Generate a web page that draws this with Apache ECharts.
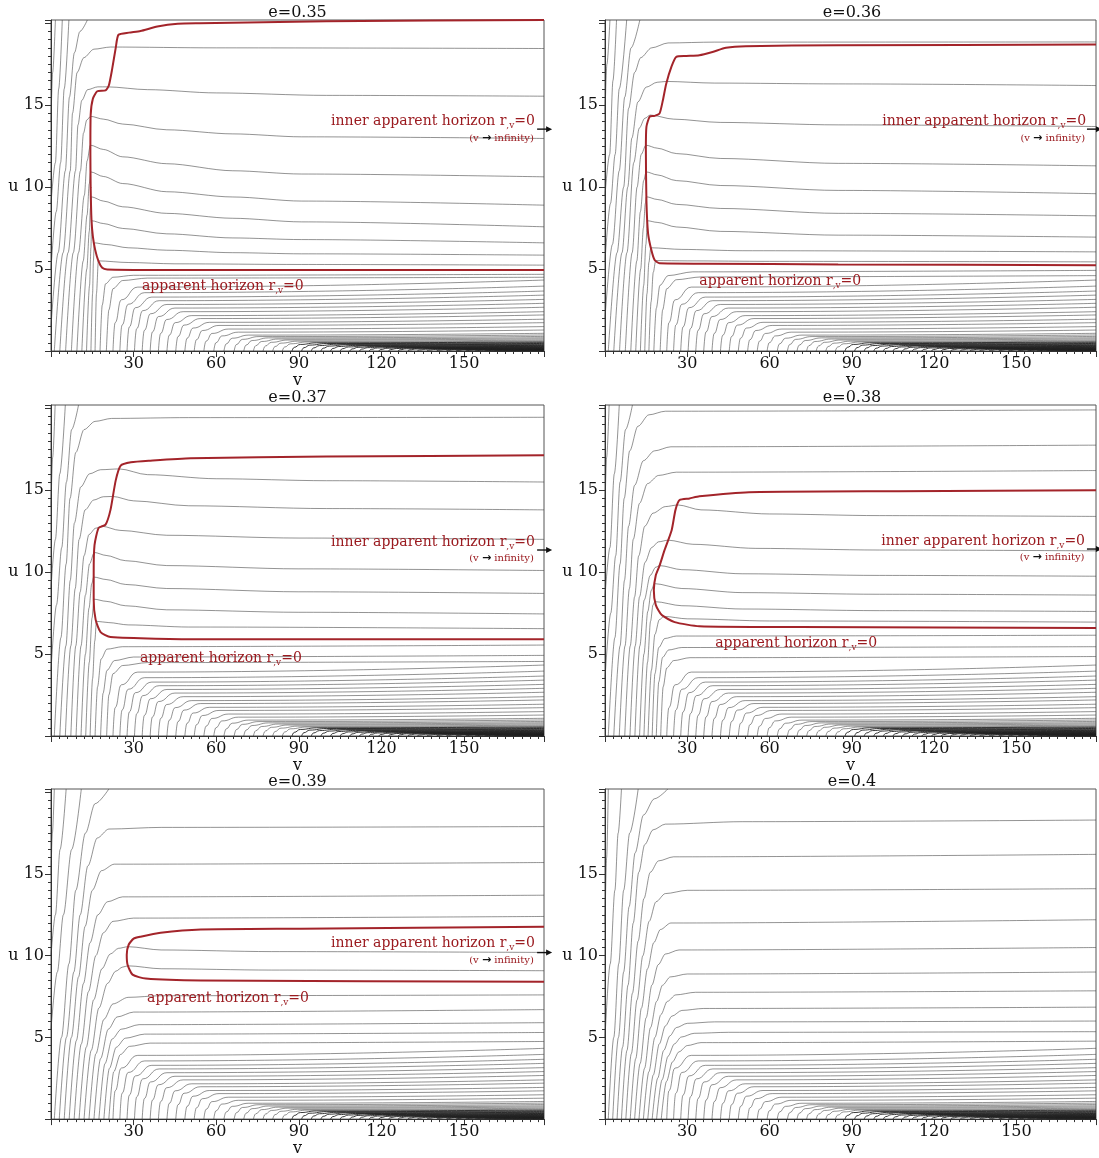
<!DOCTYPE html>
<html><head><meta charset="utf-8">
<script src="https://cdn.jsdelivr.net/npm/echarts@6/dist/echarts.min.js"></script>
<style>html,body{margin:0;padding:0;background:#fff}#c{width:1099px;height:1158px}</style>
</head><body><div id="c"></div>
<script>
// ---------- chart values ----------
const panelTitles = ['e=0.35','e=0.36','e=0.37','e=0.38','e=0.39','e=0.4'];
const xTickLabels = [30,60,90,120,150];
const yTickLabels = [5,10,15];
const vMax = 179, uMax = 20.2;

// lower fan of contour lines (shared by all panels): foot on u=0, three bend points, value at right edge
const fanFootV = [22.5,25,27.6,30.3,33.1,36,39,42.1,45.3,48.6,52,55.5,59.1,62.8,
  66.5,70,73.5,77,80.5,84,87.5,91,94.5,98,101.5,105,108.5,112,115.5,119,122.5,126,129.5,133,136.5,140,143.5,147,150.5,154,157.5,161,164.5,168,171.5,175,178];
const fanBendA = [[23.3,1.73],[25.8,1.58],[28.4,1.46],[31.1,1.36],[33.9,1.26],[36.8,1.16],[39.8,1.07],[42.9,0.96],[46.1,0.88],[49.4,0.78],[52.8,0.69],[56.3,0.6],[59.9,0.51],[63.6,0.43],
  [67.3,0.39],[70.8,0.36],[74.3,0.32],[77.8,0.3],[81.3,0.27],[84.8,0.24],[88.3,0.22],[91.8,0.2],[95.3,0.184],[98.8,0.168],[102.3,0.152],[105.8,0.138],[109.3,0.125],[112.8,0.114],[116.3,0.103],[119.8,0.093],[123.3,0.084],[126.8,0.075],[130.3,0.068],[133.8,0.06],[137.3,0.054],[140.8,0.048],[144.3,0.042],[147.8,0.037],[151.3,0.032],[154.8,0.028],[158.3,0.024],[161.8,0.02],[165.3,0.017],[168.8,0.014],[172.3,0.011],[175.8,0.008],[178.8,0.006]];
const fanBendB = [[25.5,3.12],[28,2.85],[30.6,2.64],[33.3,2.46],[36.1,2.27],[39,2.1],[42,1.92],[45.1,1.73],[48.3,1.58],[51.6,1.4],[55,1.25],[58.5,1.07],[62.1,0.92],[65.8,0.78],
  [69.5,0.71],[73,0.64],[76.5,0.58],[80,0.53],[83.5,0.48],[87,0.44],[90.5,0.4],[94,0.36],[97.5,0.33],[101,0.3],[104.5,0.274],[108,0.248],[111.5,0.225],[115,0.204],[118.5,0.185],[122,0.167],[125.5,0.15],[129,0.135],[132.5,0.122],[136,0.109],[139.5,0.097],[143,0.086],[146.5,0.076],[150,0.067],[153.5,0.058],[157,0.05],[160.5,0.043],[164,0.037],[167.5,0.03],[171,0.024],[174.5,0.019],[178,0.014],[179,0.01]];
const fanBendC = [[31.5,3.9],[34,3.56],[36.6,3.29],[39.3,3.07],[42.1,2.84],[45,2.62],[48,2.4],[51.1,2.16],[54.3,1.98],[57.6,1.75],[61,1.56],[64.5,1.34],[68.1,1.15],[71.8,0.97],
  [75.5,0.88],[79,0.8],[82.5,0.73],[86,0.67],[89.5,0.6],[93,0.55],[96.5,0.5],[100,0.455],[103.5,0.414],[107,0.378],[110.5,0.342],[114,0.31],[117.5,0.282],[121,0.256],[124.5,0.231],[128,0.209],[131.5,0.188],[135,0.169],[138.5,0.152],[142,0.136],[145.5,0.122],[149,0.108],[152.5,0.095],[156,0.084],[159.5,0.073],[163,0.063],[166.5,0.054],[170,0.046],[173.5,0.038],[177,0.031],[179,0.024],[179,0.018],[179,0.013]];
const fanEndU = [4.33,3.96,3.66,3.41,3.15,2.91,2.67,2.4,2.2,1.94,1.73,1.49,1.28,1.08,
  0.98,0.89,0.81,0.74,0.67,0.61,0.555,0.505,0.46,0.42,0.38,0.345,0.313,0.284,0.257,0.232,0.209,0.188,0.169,0.151,0.135,0.12,0.106,0.093,0.081,0.07,0.06,0.051,0.042,0.034,0.027,0.02,0.014];

// upper contour lines per panel, [v,u] points
const contourE35 = [
 [[0,14],[0.6,17],[1.6,20.2]],
 [[0,9],[1.6,11.5],[2.8,16],[4.1,20.2]],
 [[0,5],[1.9,8.5],[3.5,11.5],[4.8,16],[6.5,20.2]],
 [[0,1.5],[2.6,6],[5.2,11],[6.7,15.5],[8.5,18.2],[10.5,19.5],[13.2,20.2]],
 [[1.2,0],[4.4,6],[7,11],[7.8,14.5],[9.5,17],[11.9,17.9],[15.6,18.42],[21.6,18.55],[60,18.5],[179,18.46]],
 [[3.2,0],[6.2,6],[8.9,11],[9.8,13.8],[11.2,15.3],[13.3,15.95],[17,16.12],[20.4,16.12],[35,15.95],[60,15.75],[100,15.6],[179,15.55]],
 [[5.3,0],[8.1,6],[10.7,11],[11.8,13.3],[13,14.1],[14.4,14.32],[19,14.15],[26,13.85],[42,13.5],[66,13.25],[91,13.07],[179,12.97]],
 [[7.4,0],[10,6],[12.1,9.5],[13.1,11.6],[14.3,12.56],[19,12.3],[26,11.85],[42,11.43],[66,11.0],[91,10.8],[179,10.63]],
 [[9.4,0],[11.7,5.5],[13.1,8.3],[13.9,10.2],[14.4,10.93],[19,10.65],[26,10.22],[42,9.72],[66,9.4],[91,9.15],[179,8.9]],
 [[11.2,0],[13,5],[13.9,7.3],[14.3,8.7],[14.6,9.41],[19,9.15],[26,8.8],[42,8.4],[66,8.1],[91,7.88],[179,7.58]],
 [[12.9,0],[14,4],[14.5,6.3],[14.75,7.95],[19,7.78],[26,7.48],[42,7.15],[66,6.9],[91,6.8],[179,6.6]],
 [[14.5,0],[15.1,3.5],[15.4,5.5],[15.7,6.6],[20,6.5],[28,6.3],[42,6.15],[66,6.0],[91,5.93],[179,5.85]],
 [[16,0],[16.5,3.5],[17.2,5.5],[28,5.4],[45,5.32],[91,5.28],[179,5.24]],
 [[17.8,0],[18.6,2.8],[19.8,4.1],[22.5,4.5],[30,4.62],[179,4.68]],
 [[20.1,0],[21,2.5],[22.5,3.8],[26,4.3],[35,4.45],[179,4.5]]
];
const contourE36 = [
 [[0,14.5],[0.7,17.5],[1.8,20.2]],
 [[0,9.5],[1.7,12],[2.9,16.5],[4.2,20.2]],
 [[0,5.5],[2,9],[3.7,12],[5.2,16],[7.9,20.2]],
 [[0,2],[2.7,6.5],[5.2,11],[7.2,15.5],[9.5,18.5],[12.7,20.2]],
 [[1.2,0],[4.4,6],[6.8,10],[8.6,14.8],[10.8,17],[13,17.9],[17,18.5],[23,18.8],[40,18.85],[179,18.86]],
 [[3.2,0],[6.2,6],[8.3,10],[9.8,13],[12,15.2],[15,16.1],[19,16.4],[22.3,16.45],[40,16.35],[85,16.3],[179,16.2]],
 [[5.3,0],[8,6],[10.5,11.5],[12.5,13.6],[14.5,14.2],[16.5,14.4],[25,14.15],[42,13.95],[85,13.8],[179,13.7]],
 [[7.4,0],[9.9,6],[11.7,10],[13.2,12],[14.9,12.56],[19,12.38],[26,12.05],[42,11.75],[85,11.45],[179,11.3]],
 [[9.4,0],[11.6,5.5],[12.9,8.5],[14.1,10.4],[15,10.93],[19,10.75],[26,10.4],[42,10.1],[85,9.8],[179,9.6]],
 [[11.2,0],[13,5],[14,7.5],[14.7,9],[15.1,9.41],[19,9.25],[26,8.95],[42,8.7],[85,8.4],[179,8.25]],
 [[12.9,0],[14.1,4],[14.9,6.5],[15.45,7.95],[19,7.85],[26,7.57],[42,7.3],[85,7.07],[179,6.95]],
 [[14.5,0],[15.3,3.5],[16,5.4],[16.7,6.3],[28,6.2],[50,6.12],[179,6.05]],
 [[16,0],[16.8,3],[17.6,4.8],[18.5,5.52],[30,5.5],[60,5.47],[179,5.44]],
 [[17.8,0],[18.7,2.6],[20,4.0],[23,4.6],[32,4.83],[179,4.92]],
 [[20.1,0],[21,2.5],[22.5,3.8],[26,4.35],[35,4.52],[179,4.6]]
];
const contourE37 = [
 [[0,14],[0.6,17],[1.5,20.2]],
 [[0,9],[1.6,12],[3.2,16],[5.2,20.2]],
 [[0,4],[2,8],[3.9,11.5],[5.6,15.5],[7.5,18.7],[10,20.2]],
 [[1.2,0],[3.6,6],[5.5,10.5],[6.9,14.5],[9,17.3],[12,18.7],[16,19.2],[22,19.38],[50,19.43],[179,19.45]],
 [[3.2,0],[5.4,5.5],[7,9.5],[8.5,13],[10.8,15.2],[14,16.0],[18,16.25],[24.8,16.3],[35,15.95],[60,15.7],[100,15.58],[179,15.5]],
 [[5.2,0],[7.2,5.5],[8.8,9],[10.2,12],[12.4,13.8],[15.5,14.4],[19,14.6],[22.4,14.62],[30,14.35],[50,14.05],[100,13.88],[179,13.8]],
 [[7.2,0],[9,5.5],[10.6,8.8],[12,11],[13.8,12.3],[16.2,12.68],[18.5,12.8],[25,12.55],[42,12.25],[90,12.08],[179,12.0]],
 [[9.1,0],[10.9,5.5],[12.5,8.6],[14,10.5],[15.7,11.2],[20,11.02],[27,10.7],[42,10.4],[90,10.2],[179,10.1]],
 [[10.9,0],[12.5,5],[13.8,7.8],[14.8,9.3],[15.5,9.7],[20,9.55],[27,9.25],[42,9.0],[90,8.8],[179,8.7]],
 [[12.6,0],[13.9,4.5],[14.9,7.2],[15.6,8.35],[20,8.22],[27,7.95],[42,7.7],[90,7.55],[179,7.45]],
 [[14.2,0],[15.1,3.5],[15.9,5.8],[16.5,7.0],[21,6.92],[28,6.78],[50,6.65],[179,6.55]],
 [[16,0],[16.9,3],[18.2,4.7],[20.3,5.3],[26,5.45],[179,5.55]],
 [[18,0],[18.9,2.6],[20.3,4.0],[23,4.6],[30,4.82],[179,4.92]],
 [[20.2,0],[21,2.5],[22.5,3.8],[26,4.3],[35,4.48],[179,4.55]]
];
const contourE38 = [
 [[0,14],[0.6,17],[1.5,20.2]],
 [[0,8.5],[1.8,11.5],[3.4,16],[5.2,20.2]],
 [[0,3.5],[2.1,7.5],[3.9,11],[5.5,15.5],[7.5,18.7],[10,20.2]],
 [[1.2,0],[3.6,6],[5.5,10.5],[7,14.5],[9,17.4],[12,18.9],[16,19.6],[22,19.82],[179,19.9]],
 [[3.2,0],[5.5,5.5],[7.1,9.5],[8.6,12.8],[10.8,15.3],[14,16.8],[18,17.4],[24,17.65],[179,17.75]],
 [[5.2,0],[7.3,5.5],[8.9,9],[10.3,12],[12.6,14.2],[15.5,15.4],[19.5,15.9],[26,16.1],[179,16.2]],
 [[7.2,0],[9.2,5.5],[10.8,8.5],[12.3,11],[14.5,12.8],[17.5,13.6],[22,14.0],[26.6,14.1],[35,13.8],[60,13.55],[100,13.45],[179,13.4]],
 [[9.1,0],[11,5.5],[12.6,8.5],[14.6,10.6],[17,11.5],[19.5,11.85],[23,11.95],[32,11.7],[55,11.45],[100,11.35],[179,11.3]],
 [[10.9,0],[12.7,5.5],[14.3,8.3],[16.5,9.8],[18.5,10.3],[19.9,10.4],[28,10.15],[50,9.9],[100,9.8],[179,9.75]],
 [[12.6,0],[14.2,5],[15.6,7.6],[16.9,8.9],[18,9.3],[28,9.0],[50,8.75],[100,8.65],[179,8.6]],
 [[14.2,0],[15.5,4.5],[16.6,7],[17.5,8.0],[18.2,8.2],[28,7.95],[50,7.75],[100,7.65],[179,7.6]],
 [[15.7,0],[16.9,4],[18.2,6.2],[19.8,7.1],[21.5,7.3],[30,7.15],[60,7.02],[179,6.95]],
 [[17.2,0],[18.2,3.8],[19.6,5.4],[21.8,5.95],[26,6.1],[179,6.15]],
 [[18.7,0],[19.6,3.3],[21,4.8],[23.2,5.25],[28,5.4],[179,5.45]],
 [[20.3,0],[21.2,3],[22.5,4.15],[25,4.6],[31,4.78],[179,4.85]]
];
const contourE39 = [
 [[0,15],[0.5,17.5],[1.2,20.2]],
 [[0,10],[1.6,12.5],[3.3,16.5],[5.5,20.2]],
 [[0,5.5],[2.3,9],[4.5,12.5],[7.5,16.5],[11,20.2]],
 [[1.2,0],[3.8,5],[6.5,9.5],[9,14],[12.5,17.5],[16,19.3],[21,20.2]],
 [[3,0],[5.6,5],[8.3,9],[10.6,12.5],[13.4,15.5],[16.8,17.2],[21,17.75],[40,17.85],[179,17.9]],
 [[4.8,0],[7.4,5],[10,8.7],[12.4,11.8],[15,14],[18.3,15.2],[23,15.6],[179,15.7]],
 [[6.6,0],[9.2,4.8],[11.8,8.3],[14.2,10.8],[17,12.5],[20.5,13.3],[26,13.6],[179,13.7]],
 [[8.4,0],[11,4.6],[13.6,7.8],[16.3,10],[19,11.4],[22.5,12.1],[30,12.3],[179,12.4]],
 [[10.2,0],[12.8,4.4],[15.5,7.3],[18.5,9.2],[21.5,10.1],[24.5,10.45],[28,10.55],[40,10.35],[80,10.25],[179,10.2]],
 [[12,0],[14.6,4.2],[17.4,6.8],[20.5,8.3],[23.5,9.05],[26,9.3],[27.9,9.38],[40,9.2],[80,9.12],[179,9.08]],
 [[13.8,0],[16.3,4],[19.2,6.1],[22.5,7.05],[28,7.45],[40,7.55],[179,7.6]],
 [[15.6,0],[18,3.7],[20.8,5.5],[24,6.25],[30,6.55],[179,6.7]],
 [[17.4,0],[19.6,3.4],[22.2,4.9],[25.5,5.5],[32,5.78],[179,5.9]],
 [[19.2,0],[21.2,3.1],[23.7,4.4],[27,4.95],[34,5.2],[179,5.3]],
 [[21,0],[22.8,2.9],[25.2,3.95],[28.5,4.45],[36,4.65],[179,4.75]]
];
const contourE40 = [
 [[0,12],[0.6,16],[1.2,20.2]],
 [[0,5],[1.9,9.5],[3.6,14],[4.8,17.5],[6,20.2]],
 [[1.2,0],[3.2,5],[5,9.5],[6.8,14],[9,17.5],[12.1,20.2]],
 [[2.8,0],[4.9,5],[6.8,9],[8.8,13],[11,16.3],[14,18.6],[18,19.6],[22.9,20.2]],
 [[4.4,0],[6.4,4.4],[8.4,8.2],[10.3,12],[12.3,15.1],[14.5,16.8],[17.5,17.7],[22,18.05],[50,18.2],[179,18.3]],
 [[6,0],[8,4.2],[10,7.7],[12.1,10.9],[14.2,13.5],[16.5,15.1],[19.5,15.8],[25,16.05],[179,16.2]],
 [[7.6,0],[9.6,4],[11.7,7.3],[13.8,10],[16.1,12.1],[18.6,13.3],[22,13.8],[30,14.0],[179,14.1]],
 [[9.2,0],[11.2,3.7],[13.3,6.8],[15.5,9.2],[17.8,10.8],[20.2,11.6],[24,12.0],[179,12.2]],
 [[10.8,0],[12.8,3.4],[15,6.2],[17.1,8.2],[19.4,9.45],[22,10.1],[27,10.35],[179,10.5]],
 [[12.4,0],[14.4,3.1],[16.6,5.6],[18.8,7.2],[21,8.2],[23.8,8.7],[30,8.88],[179,9.0]],
 [[14,0],[16,2.9],[18.2,5.0],[20.4,6.4],[22.7,7.2],[25.8,7.6],[33,7.76],[179,7.85]],
 [[15.6,0],[17.6,2.7],[19.8,4.6],[22,5.7],[24.4,6.3],[28,6.65],[36,6.77],[179,6.85]],
 [[17.2,0],[19.2,2.5],[21.4,4.2],[23.7,5.1],[26,5.6],[30,5.86],[40,5.95],[179,6.0]],
 [[18.8,0],[20.8,2.4],[23,3.85],[25.3,4.6],[27.8,5.02],[32.5,5.25],[45,5.31],[179,5.35]],
 [[20.5,0],[22.4,2.3],[24.6,3.5],[27,4.12],[30,4.5],[35,4.68],[179,4.77]]
];

// apparent horizon curves r,v = 0 (red)
const horizonE35 = [[179,20.2],[100,20.12],[54,20.0],[46,19.97],[38.6,19.8],[32.5,19.53],[28.3,19.43],[24.5,19.3],[23.5,18.5],[22.2,17.2],[21,16.2],[19.8,15.9],[16.8,15.85],[15.2,15.4],[14.4,14.4],[14.3,12],[14.4,10],[14.7,8],[15.2,7],[16,6.2],[17.2,5.5],[18.6,5.08],[20.4,4.98],[40,4.95],[179,4.94]];
const horizonE36 = [[179,18.7],[85,18.66],[51.3,18.6],[44.1,18.5],[39.2,18.25],[34.4,18.05],[29.6,18.0],[26,17.95],[24.2,17.34],[22.3,16.3],[21.1,15.3],[19.9,14.5],[18.1,14.35],[16.3,14.3],[15.1,13.68],[14.9,12.25],[15.1,9.2],[15.7,7.18],[16.9,6.16],[18.1,5.55],[19.9,5.35],[36,5.33],[85,5.28],[179,5.24]];
const horizonE37 = [[179,17.13],[100,17.05],[50.7,16.95],[36,16.8],[29,16.7],[25.3,16.5],[23.5,15.6],[21.6,13.8],[19.8,12.9],[17.3,12.7],[15.8,11.65],[15.5,10],[15.5,8.3],[16.2,7.1],[18,6.34],[21.6,6.04],[54.4,5.9],[179,5.9]];
const horizonE38 = [[179,15.0],[107,14.94],[52.5,14.88],[34.4,14.63],[30.8,14.5],[27.2,14.4],[25.7,13.8],[24.3,12.56],[21.7,11.34],[19.9,10.4],[18.5,9.8],[17.8,8.9],[18.5,8.0],[20.7,7.38],[25.4,6.95],[34.4,6.7],[70.7,6.65],[179,6.59]];
const horizonE39 = [[179,11.77],[90.7,11.65],[54.4,11.6],[39.8,11.4],[32.5,11.16],[30,11.04],[28.2,10.67],[27.5,10.06],[27.8,9.45],[29.6,8.84],[34.4,8.6],[54.4,8.48],[179,8.41]];
const horizonE40 = [];

// annotation anchors (data units)
const innerLabelAt = [[175.7,14.03],[175.4,14.03],[175.7,11.84],[175,11.9],[175.7,10.74],null];
const infinityLabelAt = [[175.3,13.0],[175,13.0],[175.3,10.86],[174.8,10.92],[175.3,9.7],null];
const arrowAt = [[176.5,13.54],[175.7,13.54],[176.5,11.35],[175.7,11.41],[176.5,10.19],null];
const outerLabelAt = [[33,3.97],[34.4,4.27],[32.3,4.76],[40.2,5.67],[34.9,7.38],null];

const contours = [contourE35,contourE36,contourE37,contourE38,contourE39,contourE40];
const horizons = [horizonE35,horizonE36,horizonE37,horizonE38,horizonE39,horizonE40];

// ---------- layout / style ----------
const FONT = 'DejaVu Serif';
const RED = '#a3242a', RED_TEXT = '#9b1b20', GRAY = '#383838', DARK = '#222', AX = '#333';
const gLeft = [51,605,51,605,51,605];
const gTop = [20,20,405,405,789,789];
const gW = [493,494,493,494,493,494];
const gH = 331;

const chart = echarts.init(document.getElementById('c'), null, {width:1099, height:1158});
const grids = [], xAxes = [], yAxes = [], titles = [], series = [];
for (let i = 0; i < 6; i++) {
  grids.push({left:gLeft[i], top:gTop[i], width:gW[i], height:gH, show:true, borderColor:'#555', borderWidth:1, backgroundColor:'transparent'});
  xAxes.push({gridIndex:i, type:'value', min:0, max:vMax, interval:30,
    axisLine:{show:true, onZero:false, lineStyle:{color:AX, width:1}},
    axisTick:{show:true, length:6, lineStyle:{color:AX}},
    minorTick:{show:true, splitNumber:10, length:3, lineStyle:{color:AX}},
    splitLine:{show:false}, minorSplitLine:{show:false},
    axisLabel:{margin:5, fontFamily:FONT, fontSize:16, color:'#111', formatter:v => xTickLabels.includes(v) ? String(v) : ''},
    name:'v', nameLocation:'middle', nameGap:20, nameTextStyle:{fontFamily:FONT, fontSize:16, color:'#111'}});
  yAxes.push({gridIndex:i, type:'value', min:0, max:uMax, interval:5,
    axisLine:{show:true, onZero:false, lineStyle:{color:AX, width:1}},
    axisTick:{show:true, length:6, lineStyle:{color:AX}},
    minorTick:{show:true, splitNumber:10, length:3, lineStyle:{color:AX}},
    splitLine:{show:false}, minorSplitLine:{show:false},
    axisLabel:{margin:7, fontFamily:FONT, fontSize:16, color:'#111', formatter:v => yTickLabels.includes(v) ? (v === 10 ? 'u 10' : String(v)) : ''}});
  titles.push({text:panelTitles[i], left:gLeft[i] + gW[i]/2, top:gTop[i] - 15, textAlign:'center', padding:0,
    textStyle:{fontFamily:FONT, fontSize:16, fontWeight:'normal', color:'#111'}});
  const base = {type:'line', xAxisIndex:i, yAxisIndex:i, symbol:'none', silent:true, animation:false, clip:true};
  for (let k = 0; k < fanFootV.length; k++) {
    const deep = fanEndU[k] < 0.56;   // the tightly packed bottom lines
    series.push(Object.assign({}, base, {data:[[fanFootV[k],0],fanBendA[k],fanBendB[k],fanBendC[k],[vMax,fanEndU[k]]],
      smooth:0.5, smoothMonotone:'x', lineStyle:{color:deep ? DARK : GRAY, width:deep ? 0.9 : 0.55}, z:2}));
  }
  contours[i].forEach(line => {
    series.push(Object.assign({}, base, {data:line, smooth:0.3, smoothMonotone:'x', lineStyle:{color:GRAY, width:0.55}, z:3}));
  });
  if (horizons[i].length) {
    series.push(Object.assign({}, base, {data:horizons[i], smooth:0.2, lineStyle:{color:RED, width:2}, z:5}));
  }
}

chart.setOption({animation:false, backgroundColor:'#fff', title:titles, grid:grids, xAxis:xAxes, yAxis:yAxes, series:series});

// annotations placed through the axes' own scales
const graphics = [];
const mainRich = {
  a:{fill:RED_TEXT, color:RED_TEXT, fontSize:14, fontFamily:FONT, lineHeight:18},
  s:{fill:RED_TEXT, color:RED_TEXT, fontSize:9, fontFamily:FONT, lineHeight:18, verticalAlign:'bottom'}
};
for (let i = 0; i < 6; i++) {
  if (innerLabelAt[i]) {
    const p = chart.convertToPixel({gridIndex:i}, innerLabelAt[i]);
    graphics.push({type:'text', x:p[0], y:p[1], z:100, style:{text:'{a|inner apparent horizon r}{s|,v}{a|=0}', rich:mainRich,
      align:'right', textAlign:'right', verticalAlign:'middle', textVerticalAlign:'middle'}});
  }
  if (infinityLabelAt[i]) {
    const p = chart.convertToPixel({gridIndex:i}, infinityLabelAt[i]);
    graphics.push({type:'text', x:p[0], y:p[1], z:100, style:{text:'{a|(v }{k|\u2192}{a| infinity)}',
      rich:{a:{fill:RED_TEXT, color:RED_TEXT, fontSize:10, fontFamily:FONT}, k:{fill:'#111', color:'#111', fontSize:11, fontFamily:'DejaVu Sans', fontWeight:'bold'}},
      align:'right', textAlign:'right', verticalAlign:'middle', textVerticalAlign:'middle'}});
  }
  if (arrowAt[i]) {
    const p = chart.convertToPixel({gridIndex:i}, arrowAt[i]);
    graphics.push({type:'line', z:100, shape:{x1:p[0], y1:p[1], x2:p[0]+10, y2:p[1]}, style:{stroke:'#111', lineWidth:1.4}});
    graphics.push({type:'polygon', z:100, shape:{points:[[p[0]+9,p[1]-3],[p[0]+15,p[1]],[p[0]+9,p[1]+3]]}, style:{fill:'#111'}});
  }
  if (outerLabelAt[i]) {
    const p = chart.convertToPixel({gridIndex:i}, outerLabelAt[i]);
    graphics.push({type:'text', x:p[0], y:p[1], z:100, style:{text:'{a|apparent horizon r}{s|,v}{a|=0}', rich:mainRich,
      align:'left', textAlign:'left', verticalAlign:'middle', textVerticalAlign:'middle'}});
  }
}
chart.setOption({graphic:graphics});
</script>
</body></html>
